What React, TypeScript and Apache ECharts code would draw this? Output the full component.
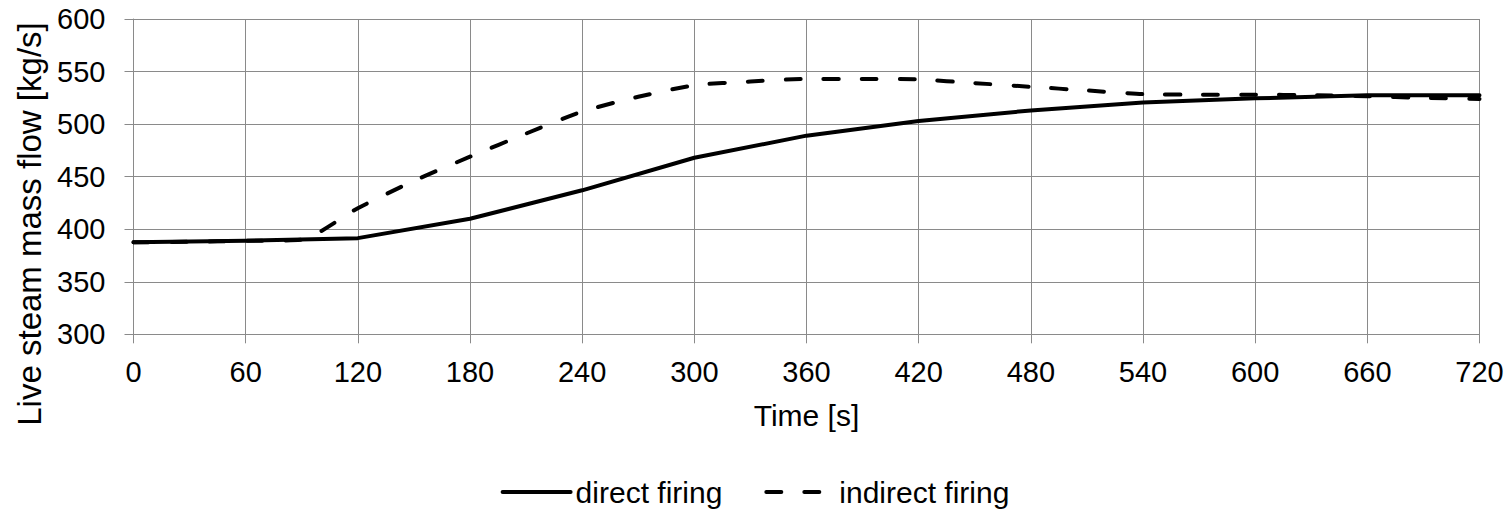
import React, { useEffect, useRef } from "react";
import * as echarts from "echarts";

const directTime = [0, 60, 120, 180, 240, 300, 360, 420, 480, 540, 600, 660, 720];
const directFlow = [387.5, 389, 391.5, 410, 437, 468, 489, 503, 513, 520.5, 524.5, 527.5, 527.5];

const indirectTime = [0, 30, 60, 90, 120, 150, 180, 210, 240, 270, 300, 330, 360, 390, 420, 450, 480, 510, 540, 570, 600, 630, 660, 690, 720];
const indirectFlow = [387.5, 388, 389, 390, 420, 446, 469, 491, 512, 526, 537, 540.5, 543, 543, 542.5, 539, 535.5, 532, 528.5, 528, 528, 527.5, 526.5, 525, 524];

const xTicks = { min: 0, max: 720, interval: 60 };
const yTicks = { min: 300, max: 600, interval: 50 };

const yTitle = "Live steam mass flow [kg/s]";
const xTitle = "Time [s]";

const FONT = "'Liberation Sans', Arial, sans-serif";
const GRID = "#8a8a8a";

export default function App() {
  const ref = useRef<HTMLDivElement>(null);
  useEffect(() => {
    if (!ref.current) return;
    const chart = echarts.init(ref.current, null, { renderer: "svg" });
    chart.setOption({
      animation: false,
      backgroundColor: "#ffffff",
      textStyle: { fontFamily: FONT },
      grid: { left: 133.5, right: 30.5, top: 19, bottom: 178.7, containLabel: false },
      graphic: [
        {
          type: "text",
          x: 29,
          y: 224,
          rotation: Math.PI / 2,
          style: {
            text: yTitle,
            fontSize: 33,
            fontFamily: FONT,
            fill: "#000",
            align: "center",
            verticalAlign: "middle",
          },
        },
      ],
      xAxis: {
        type: "value",
        min: xTicks.min,
        max: xTicks.max,
        interval: xTicks.interval,
        name: xTitle,
        nameLocation: "middle",
        nameGap: 66,
        nameTextStyle: { fontSize: 30, color: "#000", fontFamily: FONT },
        axisLine: { show: true, lineStyle: { color: GRID, width: 1 } },
        axisTick: { show: true, length: 9, lineStyle: { color: GRID, width: 1 } },
        axisLabel: { fontSize: 29, color: "#000", margin: 23, fontFamily: FONT },
        splitLine: { show: true, lineStyle: { color: GRID, width: 1 } },
      },
      yAxis: {
        type: "value",
        min: yTicks.min,
        max: yTicks.max,
        interval: yTicks.interval,
        axisLine: { show: true, lineStyle: { color: GRID, width: 1 } },
        axisTick: { show: true, length: 9, lineStyle: { color: GRID, width: 1 } },
        axisLabel: { fontSize: 29, color: "#000", margin: 28, fontFamily: FONT },
        splitLine: { show: true, lineStyle: { color: GRID, width: 1 } },
      },
      legend: {
        show: true,
        bottom: 1,
        left: "center",
        itemWidth: 68,
        itemHeight: 14,
        itemGap: 42,
        itemStyle: { opacity: 0 },
        lineStyle: { width: 4, cap: "round" },
        textStyle: { fontSize: 30, color: "#000", fontFamily: FONT },
        data: ["direct firing", "indirect firing"],
      },
      series: [
        {
          name: "direct firing",
          type: "line",
          data: directTime.map((t, i) => [t, directFlow[i]]),
          symbol: "none",
          lineStyle: { color: "#000", width: 4, type: "solid", cap: "round", join: "round" },
          itemStyle: { color: "#000" },
          z: 3,
        },
        {
          name: "indirect firing",
          type: "line",
          data: indirectTime.map((t, i) => [t, indirectFlow[i]]),
          symbol: "none",
          smooth: 0.2,
          lineStyle: { color: "#000", width: 4, type: [15, 23], cap: "round", join: "round" },
          itemStyle: { color: "#000" },
          z: 2,
        },
      ],
    });
    return () => chart.dispose();
  }, []);
  return (
    <div
      ref={ref}
      style={{ position: "fixed", left: 0, top: 0, width: 1510, height: 513, background: "#fff" }}
    />
  );
}
